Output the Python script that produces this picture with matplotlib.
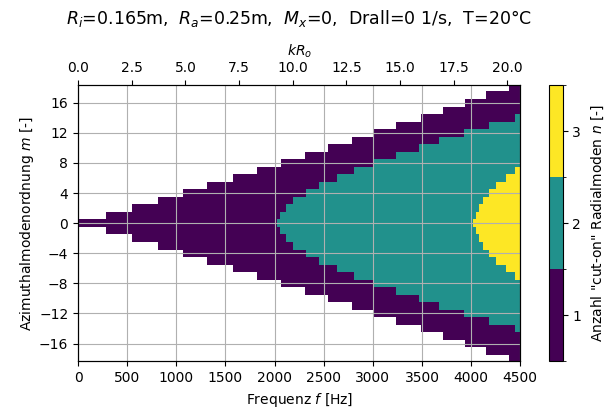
import numpy as np
import matplotlib
matplotlib.use("Agg")
import matplotlib.pyplot as plt
from matplotlib.colors import ListedColormap, BoundaryNorm
from matplotlib.ticker import MultipleLocator, FormatStrFormatter

# cut-on frequencies [Hz], index = |m|
f_cut_n1 = [0, 281, 544, 815, 1069, 1316, 1576, 1819, 2066, 2303, 2540,
            2786, 3013, 3233, 3487, 3713, 3933, 4153, 4383]
f_cut_n2 = [2022, 2049, 2117, 2185, 2313, 2448, 2631, 2810, 3013, 3233,
            3470, 3673, 3926, 4180, 4451]
f_cut_n3 = [4018, 4051, 4078, 4119, 4187, 4254, 4349, 4451]

m_max = 18
f_max = 4500.0
R_a = 0.25
c0 = 343.2   # speed of sound at 20 degC

title = r"$R_i$=0.165m,  $R_a$=0.25m,  $M_x$=0,  Drall=0 1/s,  T=20°C"

# count of cut-on radial modes on a (m, f) grid
m = np.arange(-m_max, m_max + 1)
f_edges = np.arange(0, f_max + 5, 5.0)
f_mid = 0.5 * (f_edges[:-1] + f_edges[1:])
count = np.zeros((len(m), len(f_mid)))
for cuts in (f_cut_n1, f_cut_n2, f_cut_n3):
    for i, mm in enumerate(m):
        if abs(mm) < len(cuts):
            count[i] += f_mid >= cuts[abs(mm)]
count = np.ma.masked_equal(count, 0)
m_edges = np.arange(-m_max - 0.5, m_max + 1.0, 1.0)

vir = plt.get_cmap("viridis")
cmap = ListedColormap([vir(0.0), vir(0.5), vir(1.0)])
norm = BoundaryNorm([0.5, 1.5, 2.5, 3.5], 3)

fig = plt.figure(figsize=(6.05, 4.11), dpi=100)
ax = fig.add_axes([0.129, 0.121, 0.731, 0.672])
mesh = ax.pcolormesh(f_edges, m_edges, count, cmap=cmap, norm=norm)
ax.set_xlim(0, f_max)
ax.set_ylim(-18.35, 18.35)
ax.xaxis.set_major_locator(MultipleLocator(500))
ax.yaxis.set_major_locator(MultipleLocator(4))
ax.grid(True, color="#b0b0b0", lw=0.8)
ax.set_xlabel("Frequenz $f$ [Hz]", fontsize=10)
ax.set_ylabel("Azimuthalmodenordnung $m$ [-]", fontsize=10, labelpad=2)
ax.tick_params(labelsize=10)

# top axis in Helmholtz number
ax2 = ax.twiny()
ax2.set_xlim(0, 2 * np.pi * f_max * R_a / c0)
ax2.xaxis.set_major_locator(MultipleLocator(2.5))
ax2.xaxis.set_major_formatter(FormatStrFormatter("%.1f"))
ax2.set_xlabel("$kR_o$", fontsize=10)
ax2.tick_params(labelsize=10)

fig.suptitle(title, fontsize=12.5, y=0.98, x=0.495)

cax = fig.add_axes([0.907, 0.121, 0.023, 0.672])
cb = fig.colorbar(mesh, cax=cax, ticks=[1, 2, 3])
cb.set_label('Anzahl "cut-on" Radialmoden $n$ [-]', fontsize=10, labelpad=6)
cb.ax.tick_params(labelsize=10)

fig.savefig("out.png", dpi=100)
